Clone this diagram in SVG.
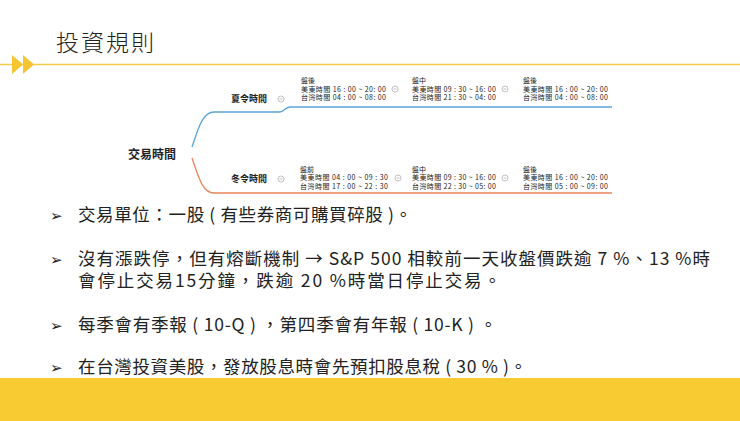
<svg xmlns="http://www.w3.org/2000/svg" width="740" height="421" viewBox="0 0 740 421">
<style>
text{font-family:"Noto Sans CJK TC","Noto Sans",sans-serif;fill:#222}
.s{font-size:7px}
.b{font-size:9px;font-weight:bold}
.m{font-size:17.5px}
.c{fill:none;stroke:#999;stroke-width:0.6}
</style>
<rect width="740" height="421" fill="#fff"/>
<rect x="0" y="378" width="740" height="43" fill="#F9CB33"/>
<line x1="0" y1="64.5" x2="740" y2="64.5" stroke="#F6CD4A" stroke-width="1.5"/>
<polygon points="12,55 23,64.5 12,74" fill="#F6C531"/>
<polygon points="23,55 34,64.5 23,74" fill="#F6C531"/>
<text x="56" y="51" font-size="23" textLength="98" style="font-family:'Noto Sans CJK TC',sans-serif;font-weight:300">投資規則</text>
<g id="connectors" fill="none" stroke-width="1.3">
<path d="M192,147 C198,130 202,112 214,112 L280,112 C284,112 285,107 290,107 L612,107" stroke="#5AA4D9"/>
<path d="M192,158 C198,175 202,193 214,193 L612,193" stroke="#E8855A"/>
</g>
<g id="root"><text x="128" y="159" class="b" style="font-size:12px">交易時間</text></g>
<g id="summer"><text x="231" y="102" class="b">夏令時間</text><circle cx="281" cy="99" r="3" class="c"/><line x1="279.5" y1="99" x2="282.5" y2="99" class="c"/></g>
<g id="winter"><text x="231" y="182" class="b">冬令時間</text><circle cx="281" cy="179" r="3" class="c"/><line x1="279.5" y1="179" x2="282.5" y2="179" class="c"/></g>
<g id="s1"><text x="301" y="83" class="s">盤後</text><text x="301" y="91.5" class="s" textLength="85">美東時間 16 : 00 ~ 20: 00</text><text x="301" y="100" class="s" textLength="85">台灣時間 04 : 00 ~ 08: 00</text><circle cx="395" cy="89" r="3" class="c"/><line x1="393.5" y1="89" x2="396.5" y2="89" class="c"/></g>
<g id="s2"><text x="412" y="83" class="s">盤中</text><text x="412" y="91.5" class="s" textLength="84">美東時間 09 : 30 ~ 16: 00</text><text x="412" y="100" class="s" textLength="84">台灣時間 21 : 30 ~ 04: 00</text><circle cx="505" cy="89" r="3" class="c"/><line x1="503.5" y1="89" x2="506.5" y2="89" class="c"/></g>
<g id="s3"><text x="523" y="83" class="s">盤後</text><text x="523" y="91.5" class="s" textLength="85">美東時間 16 : 00 ~ 20: 00</text><text x="523" y="100" class="s" textLength="85">台灣時間 04 : 00 ~ 08: 00</text></g>
<g id="w1"><text x="300" y="171.5" class="s">盤前</text><text x="300" y="180" class="s" textLength="88">美東時間 04 : 00 ~ 09 : 30</text><text x="300" y="188.5" class="s" textLength="88">台灣時間 17 : 00 ~ 22 : 30</text><circle cx="398" cy="178" r="3" class="c"/><line x1="396.5" y1="178" x2="399.5" y2="178" class="c"/></g>
<g id="w2"><text x="412" y="171.5" class="s">盤中</text><text x="412" y="180" class="s" textLength="84">美東時間 09 : 30 ~ 16: 00</text><text x="412" y="188.5" class="s" textLength="84">台灣時間 22 : 30 ~ 05: 00</text><circle cx="505" cy="178" r="3" class="c"/><line x1="503.5" y1="178" x2="506.5" y2="178" class="c"/></g>
<g id="w3"><text x="523" y="171.5" class="s">盤後</text><text x="523" y="180" class="s" textLength="85">美東時間 16 : 00 ~ 20: 00</text><text x="523" y="188.5" class="s" textLength="85">台灣時間 05 : 00 ~ 09: 00</text></g>
<g id="bullets">
<text x="50" y="221" style="font-size:15px">➢</text><text x="78" y="221" class="m" textLength="334">交易單位：一股 ( 有些券商可購買碎股 )。</text>
<text x="50" y="265" style="font-size:15px">➢</text><text x="78" y="265" class="m" textLength="632">沒有漲跌停，但有熔斷機制 → S&amp;P 500 相較前一天收盤價跌逾 7 %、13 %時</text>
<text x="78" y="287" class="m" textLength="423">會停止交易15分鐘，跌逾 20 %時當日停止交易。</text>
<text x="50" y="331" style="font-size:15px">➢</text><text x="78" y="331" class="m" textLength="419">每季會有季報 ( 10-Q ) ，第四季會有年報 ( 10-K ) 。</text>
<text x="50" y="373" style="font-size:15px">➢</text><text x="78" y="373" class="m" textLength="449">在台灣投資美股，發放股息時會先預扣股息稅 ( 30 % )。</text>
</g>
</svg>
